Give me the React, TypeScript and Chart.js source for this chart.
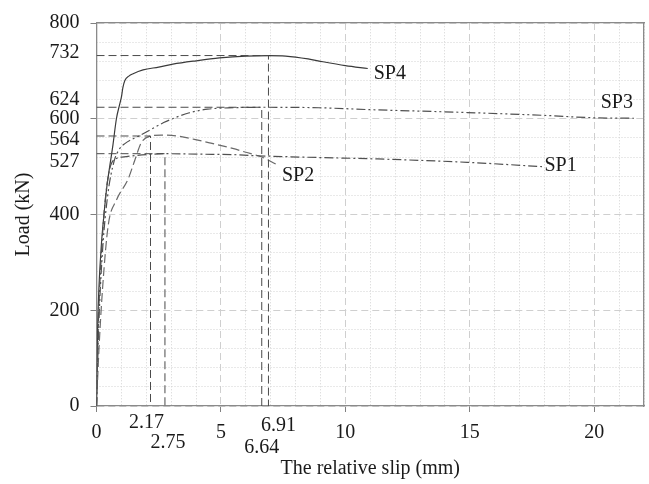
import { useEffect, useRef } from "react";
import { Chart, registerables } from "chart.js";

Chart.register(...registerables);

// ---------- data ----------
const seriesNames = ["SP1", "SP2", "SP3", "SP4"];

const sp1Slip = [0, 0.08, 0.2, 0.35, 0.53, 0.73, 1.2, 2.0, 2.75, 4.13, 5.5, 6.27, 8.93, 11.3, 14.9, 17.9];
const sp1Load = [0, 180, 320, 430, 495, 515, 521, 525, 527, 526, 525, 523, 519, 516, 509, 500];

const sp2Slip = [0, 0.1, 0.25, 0.47, 0.8, 1.27, 1.55, 1.8, 2.17, 2.6, 3.25, 3.93, 4.6, 5.47, 6.0, 6.64, 7.33];
const sp2Load = [0, 120, 250, 377, 430, 474, 515, 550, 564, 566, 564, 557, 549, 538, 530, 520, 502];

const sp3Slip = [0, 0.1, 0.25, 0.45, 0.7, 0.9, 1.14, 1.74, 2.2, 2.7, 3.2, 3.7, 4.46, 5.5, 6.64, 8.93, 11, 14.9, 18, 20, 21.6];
const sp3Load = [0, 180, 330, 440, 510, 535, 548, 565, 578, 592, 603, 612, 620, 623, 624, 623, 619, 613, 607, 602, 601];

const sp4Slip = [0, 0.04, 0.1, 0.2, 0.3, 0.42, 0.53, 0.66, 0.8, 0.93, 1.0, 1.06, 1.14, 1.3, 1.47, 1.87, 2.5, 3.07, 4.0, 4.94, 6.0, 6.91, 7.6, 8.5, 9.1, 10.0, 10.9];
const sp4Load = [0, 150, 250, 340, 400, 460, 500, 545, 600, 630, 645, 665, 680, 689, 694, 702, 708, 714, 721, 727, 731, 732, 731, 725, 719, 711, 705];

// peak points (SP1..SP4)
const peakSlip = [2.75, 2.17, 6.64, 6.91];
const peakLoad = [527, 564, 624, 732];

// where each series name is written (data units)
const nameSlip = [18.0, 7.45, 20.26, 11.14];
const nameLoad = [502, 481, 634, 693];

const xTicks = [0, 5, 10, 15, 20];
const yTicks = [0, 200, 400, 600, 800];

// ---------- styles ----------
const FONT = '"Liberation Serif", "Times New Roman", serif';
const seriesColors = ["#505050", "#6a6a6a", "#505050", "#3a3a3a"];
const seriesDash = [[9, 3, 2, 3], [9, 4], [9, 3, 2, 3, 2, 3], []];
const peakXShift = [3, -4, 0, 10];
const peakXRow = [37, 17, 42, 20];
const peakYShift = [8, 4, -8, -3];

const slips = [sp1Slip, sp2Slip, sp3Slip, sp4Slip];
const loads = [sp1Load, sp2Load, sp3Load, sp4Load];

const annotationPlugin = {
  id: "annotations",
  afterDraw(chart: any) {
    const { ctx, chartArea } = chart;
    const xs = chart.scales.x;
    const ys = chart.scales.y;
    ctx.save();
    ctx.font = `20px ${FONT}`;
    ctx.fillStyle = "#1a1a1a";
    ctx.textBaseline = "middle";
    ctx.textAlign = "right";
    peakLoad.forEach((v, i) => {
      ctx.fillText(String(v), chartArea.left - 17, ys.getPixelForValue(v) + peakYShift[i]);
    });
    ctx.textAlign = "center";
    peakSlip.forEach((v, i) => {
      ctx.fillText(v.toFixed(2), xs.getPixelForValue(v) + peakXShift[i], chartArea.bottom + peakXRow[i]);
    });
    ctx.textAlign = "left";
    seriesNames.forEach((n, i) => {
      ctx.fillText(n, xs.getPixelForValue(nameSlip[i]), ys.getPixelForValue(nameLoad[i]));
    });
    ctx.restore();
  },
};

export default function App() {
  const ref = useRef<HTMLCanvasElement | null>(null);

  useEffect(() => {
    if (!ref.current) return;
    const curveSets = seriesNames.map((name, i) => ({
      label: name,
      data: slips[i].map((s, k) => ({ x: s, y: loads[i][k] })),
      borderColor: seriesColors[i],
      borderWidth: 1.2,
      borderDash: seriesDash[i],
      pointRadius: 0,
      cubicInterpolationMode: "monotone" as const,
      fill: false,
    }));
    const refSets = peakSlip.map((s, i) => ({
      label: "peak " + seriesNames[i],
      data: [
        { x: 0, y: peakLoad[i] },
        { x: s, y: peakLoad[i] },
        { x: s, y: 0 },
      ],
      borderColor: "#4a4a4a",
      borderWidth: 1,
      borderDash: [8, 4],
      pointRadius: 0,
      tension: 0,
      fill: false,
    }));

    const chart = new Chart(ref.current, {
      type: "line",
      data: { datasets: [...refSets, ...curveSets] as any },
      plugins: [annotationPlugin],
      options: {
        animation: false,
        responsive: false,
        events: [],
        layout: { padding: { top: 22, right: 5, bottom: 0, left: 0 } },
        plugins: { legend: { display: false }, tooltip: { enabled: false } },
        scales: {
          x: {
            type: "linear",
            position: "bottom",
            min: 0,
            max: 22,
            afterBuildTicks: (s: any) => {
              s.ticks = xTicks.map((v) => ({ value: v }));
            },
            afterFit: (s: any) => {
              s.height = 78;
            },
            ticks: {
              font: { family: FONT, size: 20 },
              color: "#1a1a1a",
              padding: 9,
              maxRotation: 0,
              autoSkip: false,
            },
            grid: { color: "#cfcfcf", lineWidth: 1, tickColor: "#808080", tickLength: 6, tickBorderDash: [] },
            border: { display: true, color: "#8a8a8a", width: 1.3, dash: [7, 4] },
            title: {
              display: true,
              text: "The relative slip (mm)",
              font: { family: FONT, size: 20 },
              color: "#1a1a1a",
              padding: { top: 0, bottom: 3 },
            },
          },
          x2: {
            type: "linear",
            position: "top",
            min: 0,
            max: 22,
            ticks: { display: false, stepSize: 1, maxTicksLimit: 1000 },
            afterFit: (s: any) => {
              s.height = 0;
            },
            grid: {
              z: -2,
              drawTicks: false,
              lineWidth: 1,
              color: (c: any) => (c.tick && c.tick.value % 5 === 0 ? "rgba(0,0,0,0)" : "#d2d2d2"),
            },
            border: { display: true, color: "#8a8a8a", width: 1.3, dash: [1, 2] },
          },
          y: {
            type: "linear",
            position: "left",
            min: 0,
            max: 800,
            afterBuildTicks: (s: any) => {
              s.ticks = yTicks.map((v) => ({ value: v }));
            },
            afterFit: (s: any) => {
              s.width = 96.5;
            },
            ticks: {
              font: { family: FONT, size: 20 },
              color: "#1a1a1a",
              padding: 11,
              autoSkip: false,
            },
            grid: { color: "#cfcfcf", lineWidth: 1, tickColor: "#808080", tickLength: 6, tickBorderDash: [] },
            border: { display: true, color: "#8a8a8a", width: 1.3, dash: [7, 4] },
            title: {
              display: true,
              text: "Load (kN)",
              font: { family: FONT, size: 20 },
              color: "#1a1a1a",
              padding: { top: 12, bottom: 0 },
            },
          },
          y2: {
            type: "linear",
            position: "right",
            min: 0,
            max: 800,
            ticks: { display: false, stepSize: 40, maxTicksLimit: 1000 },
            afterFit: (s: any) => {
              s.width = 0;
            },
            grid: {
              z: -2,
              drawTicks: false,
              lineWidth: 1,
              color: (c: any) => (c.tick && c.tick.value % 200 === 0 ? "rgba(0,0,0,0)" : "#d2d2d2"),
            },
            border: { display: true, color: "#8a8a8a", width: 1.3, dash: [1, 2] },
          },
        },
      } as any,
    });
    return () => chart.destroy();
  }, []);

  return (
    <div style={{ position: "absolute", left: 0, top: 0, width: 649, height: 484, background: "#fff" }}>
      <canvas ref={ref} width={649} height={484} />
    </div>
  );
}
